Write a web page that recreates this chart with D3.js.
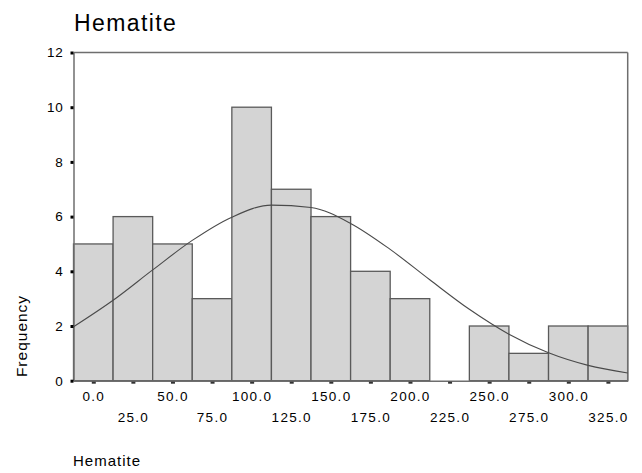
<!DOCTYPE html>
<html>
<head>
<meta charset="utf-8">
<script src="https://cdn.jsdelivr.net/npm/d3@7"></script>
<style>
  html, body { margin: 0; padding: 0; background: #fff; }
  svg { display: block; font-family: Arial, "Liberation Sans", Helvetica, sans-serif; }
</style>
</head>
<body>
<svg id="chart" width="642" height="473"></svg>
<script>
// ---- data ----
const binCenters = [0, 25, 50, 75, 100, 125, 150, 175, 200, 225, 250, 275, 300, 325];
const frequencies = [5, 6, 5, 3, 10, 7, 6, 4, 3, 0, 2, 1, 2, 2];
const xTickLabels = ["0.0", "25.0", "50.0", "75.0", "100.0", "125.0", "150.0", "175.0", "200.0", "225.0", "250.0", "275.0", "300.0", "325.0"];
const yTicks = [0, 2, 4, 6, 8, 10, 12];
// normal curve at bin edges
const curveX = [-12.5, 12.5, 37.5, 62.5, 87.5, 112.5, 137.5, 162.5, 187.5, 212.5, 237.5, 262.5, 287.5, 312.5, 337.5];
const curveY = [1.97, 2.94, 4.05, 5.13, 5.98, 6.42, 6.33, 5.75, 4.80, 3.69, 2.61, 1.70, 1.02, 0.56, 0.28];
const binWidth = 25;
const chartTitle = "Hematite";
const xTitle = "Hematite";
const yTitle = "Frequency";

// ---- layout ----
const plotLeft = 73.5, plotRight = 627.7, plotTop = 52.5, plotBottom = 380.7;
const svg = d3.select("#chart");

const x = d3.scaleLinear().domain([-12.5, 337.5]).range([plotLeft, plotRight]);
const y = d3.scaleLinear().domain([0, 12]).range([plotBottom, plotTop]);

const frameColor = "#6e6e6e";

// bars
svg.append("g").selectAll("rect")
  .data(binCenters.map((c, i) => ({c, v: frequencies[i]})).filter(d => d.v > 0))
  .join("rect")
  .attr("x", d => x(d.c - binWidth / 2))
  .attr("y", d => y(d.v))
  .attr("width", d => x(d.c + binWidth / 2) - x(d.c - binWidth / 2))
  .attr("height", d => y(0) - y(d.v))
  .attr("fill", "#d4d4d4")
  .attr("stroke", "#5a5a5a")
  .attr("stroke-width", 1.3);

// frame: top and right
svg.append("line").attr("x1", plotLeft).attr("x2", plotRight).attr("y1", plotTop).attr("y2", plotTop)
  .attr("stroke", frameColor).attr("stroke-width", 1.5);
svg.append("line").attr("x1", plotRight).attr("x2", plotRight).attr("y1", plotTop).attr("y2", plotBottom)
  .attr("stroke", frameColor).attr("stroke-width", 1.5);

// y axis
const yAxis = d3.axisLeft(y).tickValues(yTicks).tickSize(0).tickPadding(10).tickFormat(d3.format("d"));
const gy = svg.append("g").attr("transform", `translate(${plotLeft},0)`).call(yAxis);
gy.select(".domain").attr("stroke", frameColor).attr("stroke-width", 1.5);
gy.selectAll("text").attr("font-size", 13.5).attr("fill", "#000")
  .attr("font-family", "Arial, 'Liberation Sans', sans-serif").attr("letter-spacing", "0.8px");
gy.selectAll(".tick").append("rect")
  .attr("x", -3).attr("y", -1.5).attr("width", 3).attr("height", 3).attr("fill", "#000");

// x axis
const xAxis = d3.axisBottom(x).tickValues(binCenters).tickSize(0).tickPadding(0)
  .tickFormat((d, i) => xTickLabels[i]);
const gx = svg.append("g").attr("transform", `translate(0,${plotBottom})`).call(xAxis);
gx.select(".domain").attr("stroke", frameColor).attr("stroke-width", 1.5);
gx.selectAll("text")
  .attr("font-size", 13.5).attr("fill", "#000")
  .attr("font-family", "Arial, 'Liberation Sans', sans-serif")
  .attr("letter-spacing", "1.3px")
  .attr("dy", null)
  .attr("y", (d, i) => i % 2 === 0 ? 20 : 41);
gx.selectAll(".tick").append("rect")
  .attr("x", -2).attr("y", 1).attr("width", 4).attr("height", 2).attr("fill", "#333");

// normal curve
const line = d3.line().x(d => x(d[0])).y(d => y(d[1])).curve(d3.curveMonotoneX);
svg.append("path")
  .datum(curveX.map((v, i) => [v, curveY[i]]))
  .attr("d", line)
  .attr("fill", "none")
  .attr("stroke", "#4a4a4a")
  .attr("stroke-width", 1.1);

// titles
svg.append("text").attr("x", 74).attr("y", 30.5).text(chartTitle)
  .attr("font-size", 23).attr("letter-spacing", "1.4px").attr("fill", "#000");
svg.append("text").attr("x", 73).attr("y", 466).text(xTitle)
  .attr("font-size", 15).attr("letter-spacing", "1px").attr("fill", "#000");
svg.append("text").attr("transform", "translate(27,336) rotate(-90)")
  .attr("text-anchor", "middle").text(yTitle)
  .attr("font-size", 15.5).attr("letter-spacing", "1px").attr("fill", "#000");
</script>
</body>
</html>
